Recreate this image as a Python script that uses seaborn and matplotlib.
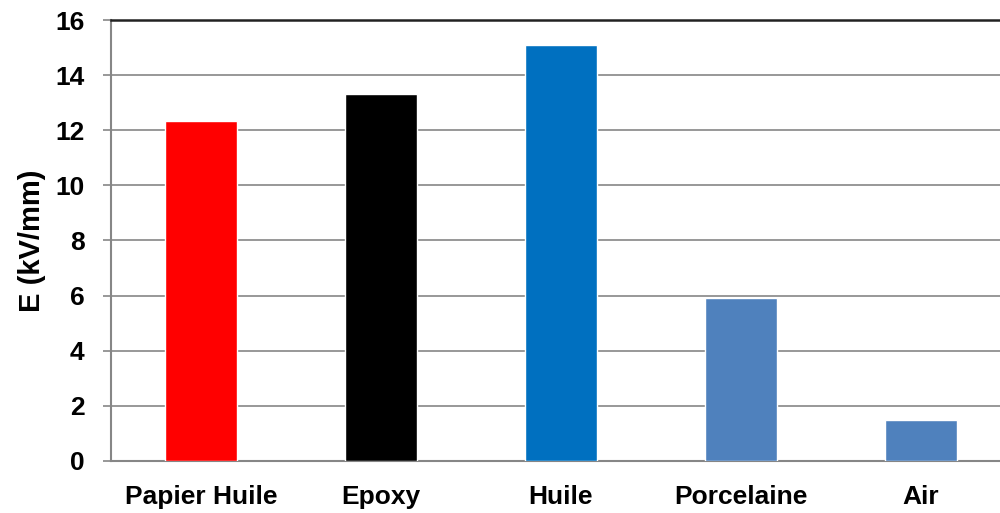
import matplotlib
matplotlib.use("Agg")
import matplotlib.pyplot as plt
import seaborn as sns
import pandas as pd
import numpy as np

# Dielectric strength of insulating materials
materials = ["Papier Huile", "Epoxy", "Huile", "Porcelaine", "Air"]
field_kv_mm = [12.35, 13.33, 15.08, 5.9, 1.49]
bar_colors = ["#FF0000", "#000000", "#0070C0", "#4F81BD", "#4F81BD"]
y_ticks = [0, 2, 4, 6, 8, 10, 12, 14, 16]

sns.set_theme(style="white")
plt.rcParams["font.family"] = ["Liberation Sans", "DejaVu Sans"]
plt.rcParams["font.weight"] = "bold"
plt.rcParams["text.color"] = "black"
plt.rcParams["axes.labelcolor"] = "black"
plt.rcParams["xtick.labelcolor"] = "black"
plt.rcParams["ytick.labelcolor"] = "black"

df = pd.DataFrame({"material": materials, "E": field_kv_mm})

fig = plt.figure(figsize=(10, 5.13), dpi=100)
ax = fig.add_axes([0.111, 0.1014, 0.9, 0.8596])

sns.barplot(data=df, x="material", y="E", hue="material", palette=bar_colors,
            legend=False, width=0.405, saturation=1, ax=ax, zorder=3)

grid_c = "#868686"
ax.set_ylim(0, 16)
ax.set_xlim(-0.5, len(materials) - 0.5)
ax.set_yticks(y_ticks)
ax.yaxis.grid(True, color=grid_c, linewidth=1.2, zorder=0)
ax.set_axisbelow(True)

# category separators as tick marks below the axis
ax.set_xticks(np.arange(len(materials)))
ax.set_xticks(np.arange(-0.5, len(materials)), minor=True)
ax.tick_params(axis="x", which="major", length=0, pad=17, labelsize=19,
               labelcolor="black")
ax.tick_params(axis="x", which="minor", length=7, width=1.2, color=grid_c, direction="out")
ax.tick_params(axis="y", which="major", length=6, width=1.2, color=grid_c,
               direction="out", pad=13, labelsize=19, left=True, labelcolor="black")
for lab in ax.get_xticklabels() + ax.get_yticklabels():
    lab.set_fontweight("bold")

ax.set_xlabel("")
ax.set_ylabel("E (kV/mm)", fontsize=21, fontweight="bold", labelpad=7, color="black")

for side in ["left", "bottom"]:
    ax.spines[side].set_color(grid_c)
    ax.spines[side].set_linewidth(1.5)
ax.spines["top"].set_color("#222222")
ax.spines["top"].set_linewidth(1.8)
ax.spines["right"].set_visible(False)

fig.savefig("out.png", dpi=100)
